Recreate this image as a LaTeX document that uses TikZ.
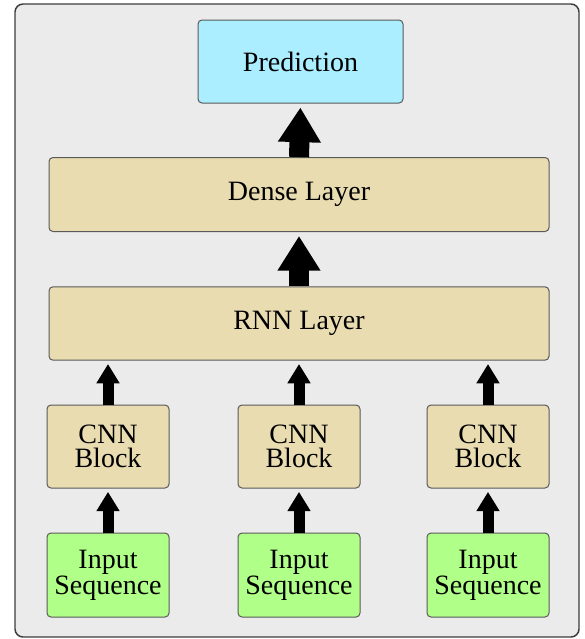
\documentclass[tikz,border=0pt]{standalone}
\usepackage{fontspec}
\setmainfont{Liberation Serif}
\newfontfamily\boxfont{Liberation Serif}
\usetikzlibrary{arrows.meta}

\definecolor{frameback}{RGB}{235,235,235}
\definecolor{predfill}{RGB}{170,238,255}
\definecolor{layerfill}{RGB}{232,220,176}
\definecolor{inputfill}{RGB}{176,255,136}
\definecolor{boxline}{RGB}{90,90,90}

\tikzset{every picture/.style={line width=0.75pt}}
\tikzset{
  blockbox/.style={draw=boxline, rounded corners=3pt, align=center, inner sep=0pt,
    font=\boxfont\fontsize{21}{17.6}\selectfont},
  bigarrow/.style={line width=15pt, -{Triangle[width=30.5pt,length=26pt]}, shorten >=3pt},
  smallarrow/.style={line width=8.25pt, -{Triangle[width=16.5pt,length=14.5pt]}, shorten >=2.5pt}
}

\begin{document}
\begin{tikzpicture}[x=0.75pt,y=0.75pt,yscale=-1,xscale=1]
\useasboundingbox (0,0) rectangle (585,639);

%Shape: Frame
\draw [draw={rgb,255:red,60;green,60;blue,60}, fill=frameback, line width=1.1pt, rounded corners=6pt] (15,4) rectangle (579,637);

% Text Node
\node [blockbox, fill=predfill, minimum width=153.75pt, minimum height=62.25pt] (pred) at (300.5,61.5) {Prediction};
\node [blockbox, fill=layerfill, minimum width=375pt, minimum height=55.5pt] (dense) at (299,194.5) {Dense Layer};
\node [blockbox, fill=layerfill, minimum width=375pt, minimum height=55pt] (rnn) at (299,323.5) {RNN Layer};

%CNN blocks and inputs
\foreach \i/\cx in {1/108,2/299,3/488}{
  \node [blockbox, fill=layerfill, minimum width=91.5pt, minimum height=62.25pt] (cnn\i) at (\cx,446.5) {CNN\\Block};
  \node [blockbox, fill=inputfill, minimum width=91.5pt, minimum height=63pt] (input\i) at (\cx,575) {Input\\Sequence};
}

%Arrows
\draw [bigarrow] (dense.north) -- (pred.south);
\draw [bigarrow] (rnn.north) -- (dense.south);
\foreach \i/\cx in {1/108,2/299,3/488}{
  \draw [smallarrow] (cnn\i.north) -- (cnn\i.north |- rnn.south);
  \draw [smallarrow] (input\i.north) -- (cnn\i.south);
}

\end{tikzpicture}
\end{document}
